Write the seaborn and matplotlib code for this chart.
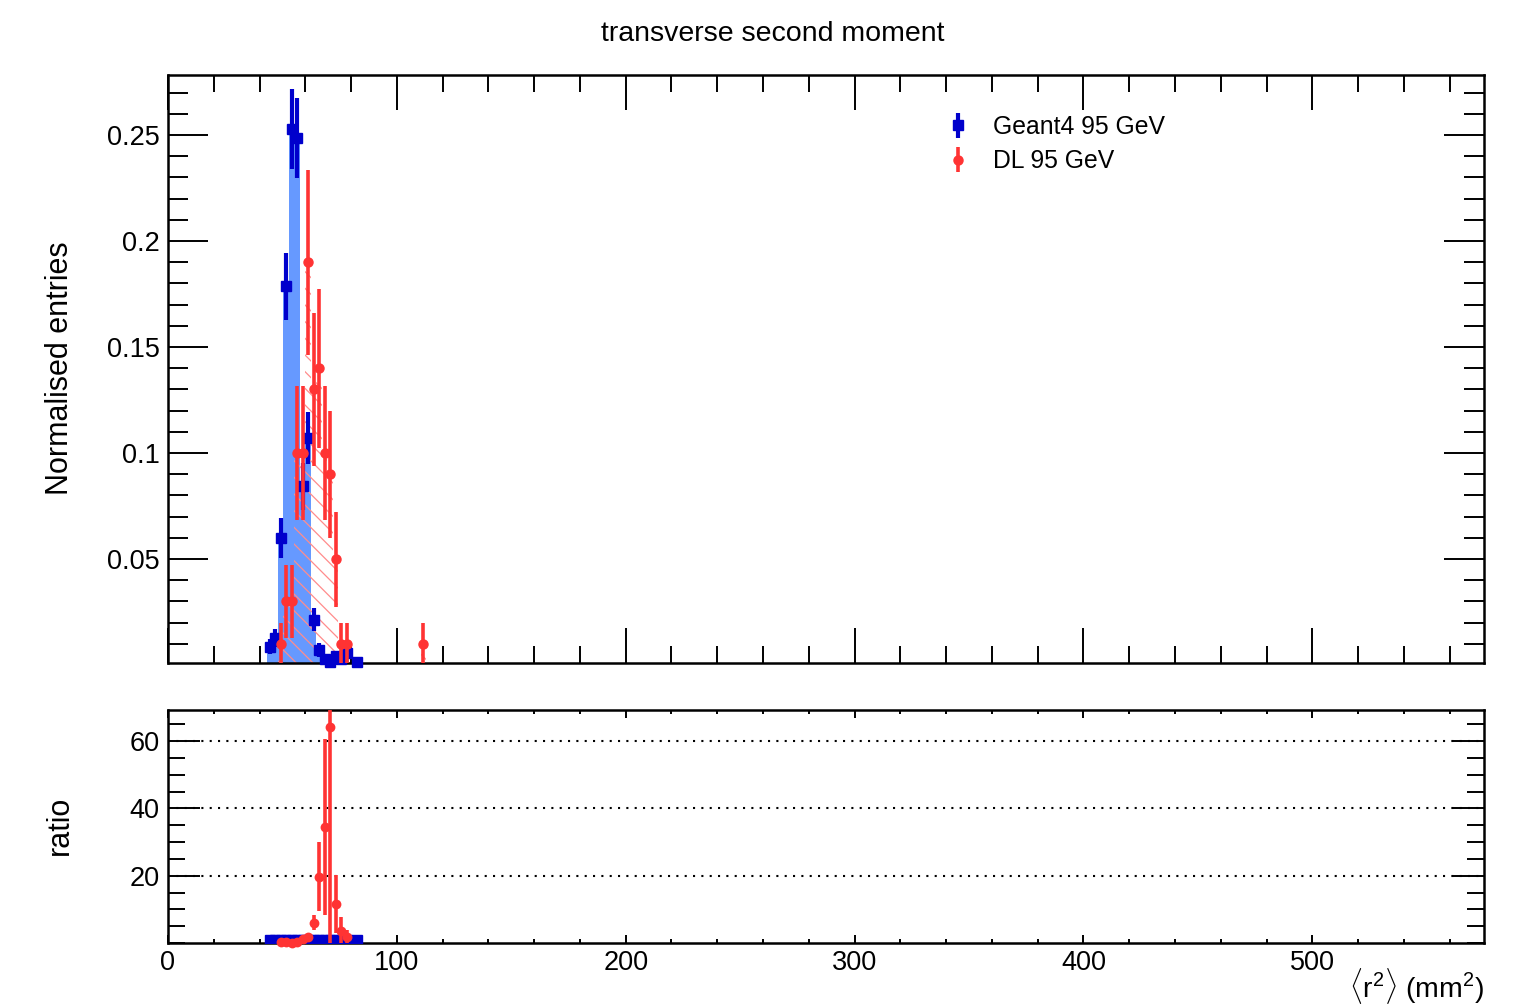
import numpy as np
import pandas as pd
import matplotlib
matplotlib.use("Agg")
import matplotlib.pyplot as plt
from matplotlib.ticker import MultipleLocator, FixedLocator, FixedFormatter
import seaborn as sns

# ---- binning of <r^2> (mm^2) ----
bin_width = 2.4
x_max = 575.0

# ---- Geant4 95 GeV, normalised entries per bin ----
g4_x = [44.4, 46.8, 49.2, 51.6, 54.0, 56.4, 58.8, 61.2, 63.6, 66.0,
        68.4, 70.8, 73.2, 75.6, 78.0, 80.4, 82.8]
g4_y = [0.0086, 0.0129, 0.0600, 0.1786, 0.2529, 0.2486, 0.0843, 0.1071,
        0.0214, 0.0071, 0.0029, 0.0014, 0.0043, 0.0029, 0.0057, 0.0, 0.0014]
g4_err = [0.0035, 0.0043, 0.0093, 0.0160, 0.0190, 0.0188, 0.0110, 0.0124,
          0.0055, 0.0032, 0.0020, 0.0014, 0.0025, 0.0020, 0.0029, 0.0, 0.0014]

# ---- DL 95 GeV, normalised entries per bin ----
dl_x = [49.2, 51.6, 54.0, 56.4, 58.8, 61.2, 63.6, 66.0, 68.4, 70.8,
        73.2, 75.6, 78.0, 111.6]
dl_y = [0.01, 0.03, 0.03, 0.10, 0.10, 0.19, 0.13, 0.14, 0.10, 0.09,
        0.05, 0.01, 0.01, 0.01]
dl_err = [0.0100, 0.0173, 0.0173, 0.0316, 0.0316, 0.0436, 0.0361, 0.0374,
          0.0316, 0.0300, 0.0224, 0.0100, 0.0100, 0.0100]

# ---- axis ticks and labels ----
top_yticks = [0.05, 0.10, 0.15, 0.20, 0.25]
top_yticklabels = ["0.05", "0.1", "0.15", "0.2", "0.25"]
ratio_yticks = [20, 40, 60]
xticks = [0, 100, 200, 300, 400, 500]

title = "transverse second moment"
label_g4 = "Geant4 95 GeV"
label_dl = "DL 95 GeV"

# ---- colours ----
c_g4_fill = "#6699ff"
c_g4 = "#0000cc"
c_dl = "#ff3333"
c_dl_hatch = "#ff8c8c"

# ---- ratio DL / Geant4 ----
g4 = pd.DataFrame({"x": g4_x, "g4": g4_y, "g4_err": g4_err})
dl = pd.DataFrame({"x": dl_x, "dl": dl_y, "dl_err": dl_err})
both = g4.merge(dl, on="x", how="inner")
both = both[(both.g4 > 0) & (both.dl > 0)].copy()
both["ratio"] = both.dl / both.g4
both["ratio_err"] = both.ratio * np.sqrt((both.dl_err / both.dl) ** 2 +
                                         (both.g4_err / both.g4) ** 2)
g4_pos = g4[g4.g4 > 0].copy()
g4_pos["ratio"] = g4_pos.g4 / g4_pos.g4
g4_pos["ratio_err"] = g4_pos.g4_err / g4_pos.g4

sns.set_theme(style="ticks")
plt.rcParams["font.family"] = ["Liberation Sans", "DejaVu Sans"]
plt.rcParams["mathtext.fontset"] = "custom"
plt.rcParams["mathtext.rm"] = "Liberation Sans"
plt.rcParams["mathtext.it"] = "Liberation Sans"
plt.rcParams["hatch.linewidth"] = 0.9
plt.rcParams["axes.linewidth"] = 1.8
for key in ("text.color", "axes.labelcolor", "xtick.color", "ytick.color",
            "axes.edgecolor"):
    plt.rcParams[key] = "black"

edges = [round(bin_width * k, 4) for k in range(241)]

fig = plt.figure(figsize=(15.37, 10.06), dpi=100)
ax = fig.add_axes([0.1093, 0.3410, 0.8562, 0.5844])
ax2 = fig.add_axes([0.1093, 0.0626, 0.8562, 0.2316])

# ---- upper panel: normalised distributions ----
sns.histplot(data=g4, x="x", weights="g4", bins=edges, element="step",
             fill=True, color=c_g4_fill, alpha=1.0, linewidth=0, ax=ax,
             zorder=1)
sns.histplot(data=dl, x="x", weights="dl", bins=edges, element="step",
             fill=True, color=c_dl_hatch, facecolor="none",
             edgecolor=c_dl_hatch, linewidth=0, hatch="\\\\", ax=ax,
             zorder=2)

g4_draw = g4[g4.g4 > 0]
h_g4 = ax.errorbar(g4_draw.x, g4_draw.g4, yerr=g4_draw.g4_err, fmt="s",
                   color=c_g4, ms=7.5, elinewidth=3, capsize=0, zorder=3)
h_g4.lines[0].set_clip_on(False)
h_dl = ax.errorbar(dl.x, dl.dl, yerr=dl.dl_err, fmt="o", color=c_dl,
                   ms=6.5, elinewidth=2.6, capsize=0, zorder=4)
h_dl.lines[0].set_clip_on(False)

ax.set_xlim(0, x_max)
ax.set_ylim(0.001, 0.2783)
ax.set_xlabel("")
ax.set_ylabel("")
ax.xaxis.set_major_locator(FixedLocator(xticks))
ax.xaxis.set_minor_locator(MultipleLocator(20))
ax.xaxis.set_ticklabels([])
ax.yaxis.set_major_locator(FixedLocator(top_yticks))
ax.yaxis.set_major_formatter(FixedFormatter(top_yticklabels))
ax.yaxis.set_minor_locator(MultipleLocator(0.01))
ax.tick_params(axis="both", which="both", direction="in", top=True,
               right=True, width=1.4, colors="black")
ax.tick_params(axis="x", which="major", length=25)
ax.tick_params(axis="x", which="minor", length=12)
ax.tick_params(axis="y", which="major", length=29, labelsize=19.5, pad=6)
ax.tick_params(axis="y", which="minor", length=14.5)

ax.legend(handles=[h_g4, h_dl], labels=[label_g4, label_dl],
          loc="upper left", bbox_to_anchor=(0.591, 0.9320), frameon=False,
          fontsize=17.8, handlelength=1.0, handletextpad=0.93,
          borderaxespad=0, borderpad=0, labelspacing=0.41)

# ---- lower panel: ratio DL / Geant4 ----
ax2.errorbar(g4_pos.x, g4_pos.ratio, yerr=g4_pos.ratio_err, fmt="s",
             color=c_g4, ms=7.5, elinewidth=3, capsize=0, zorder=3)
ax2.errorbar(both.x, both.ratio, yerr=both.ratio_err, fmt="none",
             ecolor=c_dl, elinewidth=2.6, capsize=0, zorder=4)
sns.scatterplot(data=both, x="x", y="ratio", marker="o", color=c_dl, s=50,
                linewidth=0, ax=ax2, zorder=5, clip_on=False)

ax2.set_xlim(0, x_max)
ax2.set_ylim(0, 69.2)
ax2.set_xlabel("")
ax2.set_ylabel("")
ax2.xaxis.set_major_locator(FixedLocator(xticks))
ax2.xaxis.set_minor_locator(MultipleLocator(20))
ax2.yaxis.set_major_locator(FixedLocator(ratio_yticks))
ax2.yaxis.set_minor_locator(MultipleLocator(5))
ax2.tick_params(axis="both", which="both", direction="in", top=True,
                right=True, width=1.4, colors="black")
ax2.tick_params(axis="x", which="major", length=5.5, labelsize=19.5, pad=5)
ax2.tick_params(axis="x", which="minor", length=2.6)
ax2.tick_params(axis="y", which="major", length=23, labelsize=19.5, pad=6)
ax2.tick_params(axis="y", which="minor", length=12)
ax2.yaxis.grid(True, which="major", color="black", linewidth=1.5,
               linestyle=(0, (1, 3)))

# ---- texts ----
fig.text(773 / 1537, 1 - 34 / 1006, title, ha="center", va="center",
         fontsize=20.5)
fig.text(60 / 1537, 1 - 368 / 1006, "Normalised entries", rotation=90,
         ha="center", va="center", fontsize=22)
fig.text(60 / 1537, 1 - 825 / 1006, "ratio", rotation=90,
         ha="center", va="center", fontsize=22)
fig.text(1484 / 1537, 1 - 997 / 1006,
         r"$\langle$r$^{2}\rangle$ (mm$^{2}$)", ha="right", va="baseline",
         fontsize=20.5)

fig.savefig("out.png", dpi=100)
